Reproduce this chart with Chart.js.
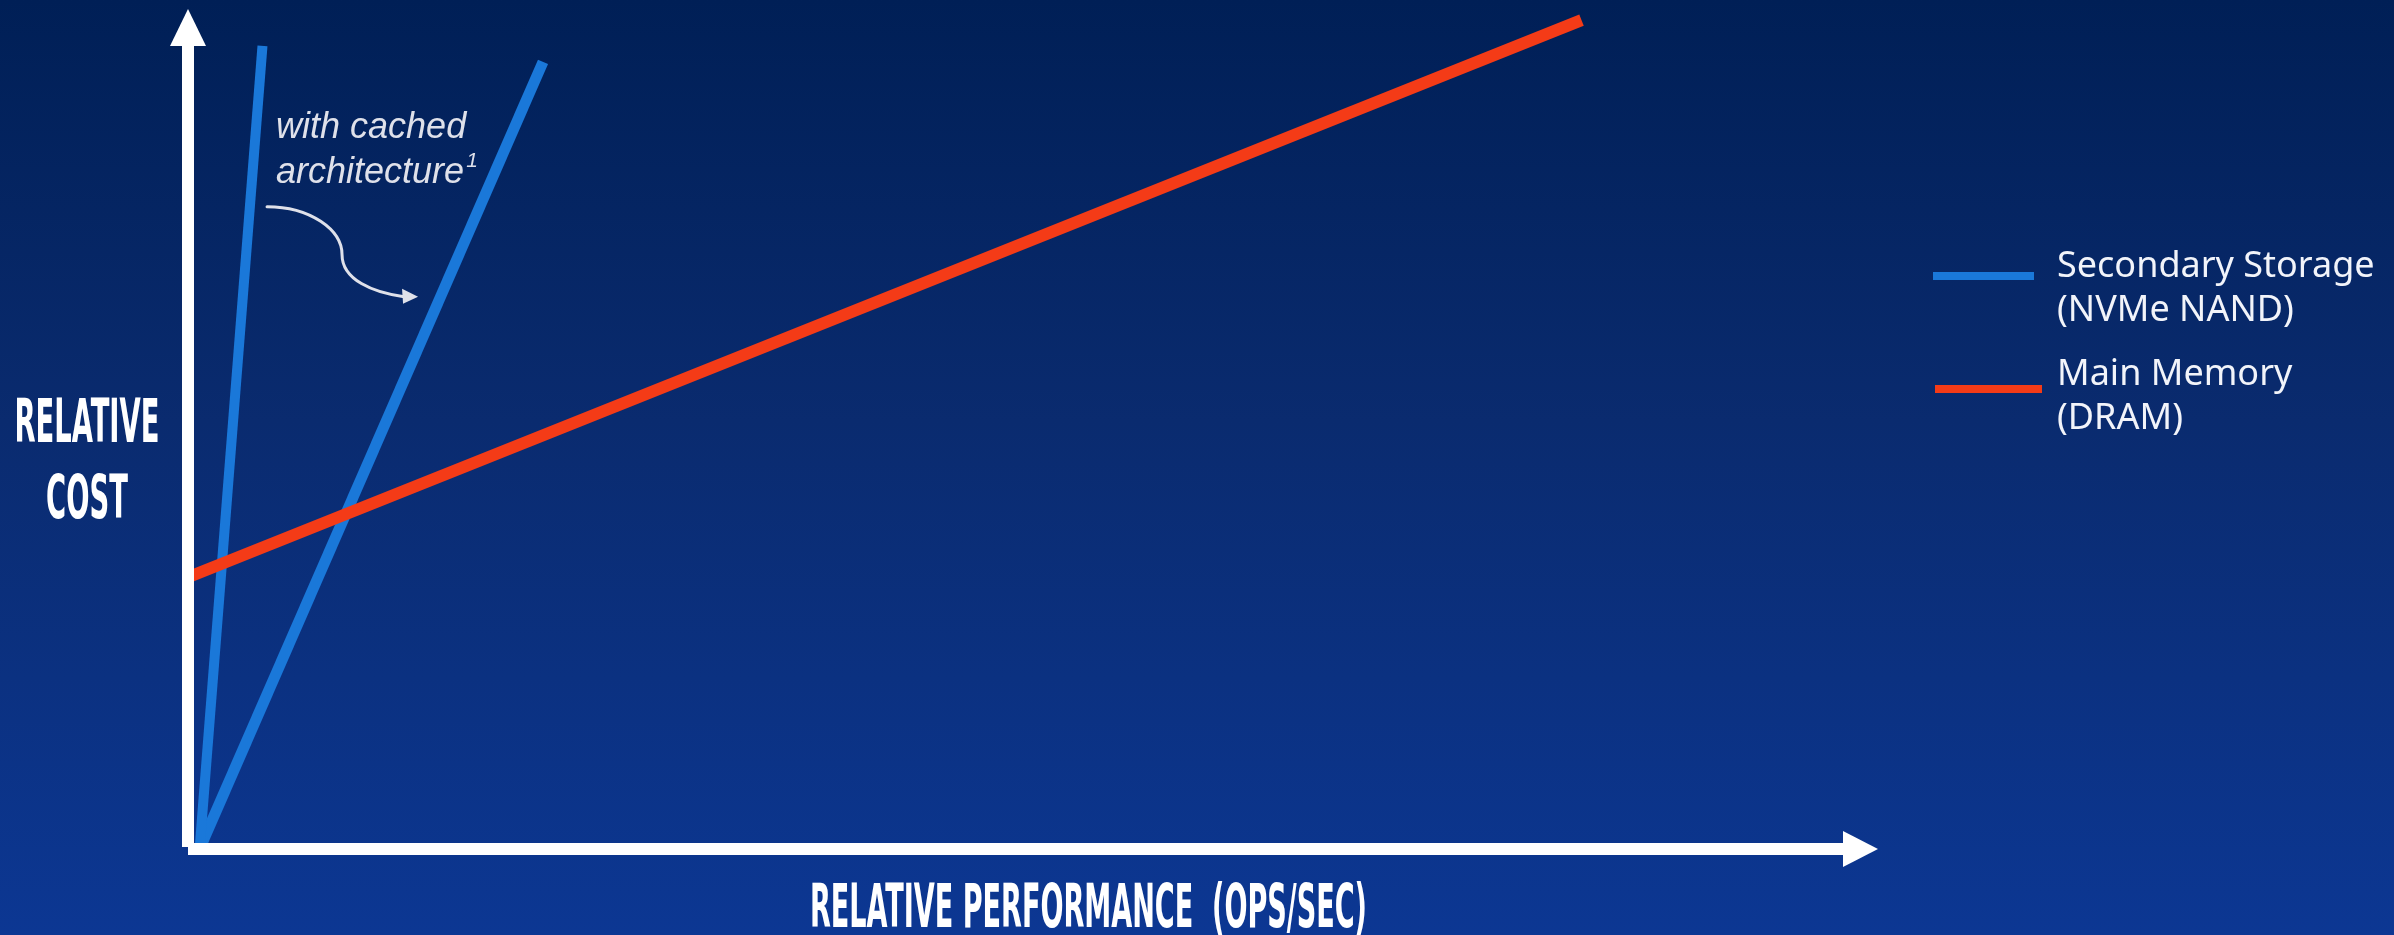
<!DOCTYPE html>
<html>
<head>
<meta charset="utf-8">
<title>Relative cost vs. relative performance</title>
<script src="https://cdn.jsdelivr.net/npm/chart.js@4.4.1/dist/chart.umd.min.js"></script>
<style>
  html, body { margin: 0; padding: 0; }
  body {
    width: 2394px; height: 935px; overflow: hidden;
    background: linear-gradient(to bottom, #001f56 0%, #0a2b6f 45%, #0c3793 100%);
  }
  #wrap { position: relative; width: 2394px; height: 935px; }
</style>
</head>
<body>
<div id="wrap"><canvas id="chart" width="2394" height="935"></canvas></div>
<script>
// Relative performance (x) and relative cost (y) end points of each line
const storagePerf = [0.7, 4.5];
const storageCost = [0, 99.9];
const cachedPerf  = [0.7, 21.45];
const cachedCost  = [0, 97.9];
const dramPerf    = [0, 84.2];
const dramCost    = [33.8, 103.1];

const seriesNames = ['Secondary Storage (NVMe NAND)', 'Secondary Storage, cached', 'Main Memory (DRAM)'];
const legendLabels = [['Secondary Storage', '(NVMe NAND)'], ['Main Memory', '(DRAM)']];
const xTitle = 'RELATIVE PERFORMANCE  (OPS/SEC)';
const yTitle = ['RELATIVE', 'COST'];
const noteLines = ['with cached', 'architecture'];
const noteMark = '1';
// where the callout arrow points, in chart units
const noteTarget = { x: 13.9, y: 68.7 };

const BLUE = '#1a78d9';
const RED = '#f43b17';
const WHITE = '#ffffff';
const CONDENSED = '"Liberation Sans Narrow", "DejaVu Sans Condensed", "Roboto Condensed", "Liberation Sans", sans-serif';

const toPoints = (xs, ys) => xs.map((x, i) => ({ x, y: ys[i] }));

// draw text squeezed horizontally to a given width
function squeezed(ctx, text, x, baseline, width, align) {
  const w = ctx.measureText(text).width;
  const sx = width / w;
  ctx.save();
  ctx.translate(x, baseline);
  ctx.scale(sx, 1);
  ctx.textAlign = align || 'left';
  ctx.fillText(text, 0, 0);
  ctx.restore();
}

const axesPlugin = {
  id: 'arrowAxes',
  afterDatasetsDraw(chart) {
    const { ctx, scales } = chart;
    const xs = scales.x, ys = scales.y;
    const x0 = xs.getPixelForValue(0);
    const y0 = ys.getPixelForValue(0);
    const xEnd = xs.getPixelForValue(100);
    const yTop = ys.getPixelForValue(100);
    ctx.save();
    ctx.fillStyle = WHITE;
    // vertical axis shaft + head
    ctx.fillRect(x0 - 6, yTop, 12, y0 - 2 - yTop);
    ctx.beginPath();
    ctx.moveTo(x0 - 18, yTop + 1);
    ctx.lineTo(x0 + 18, yTop + 1);
    ctx.lineTo(x0, yTop - 36);
    ctx.closePath();
    ctx.fill();
    // horizontal axis shaft + head
    ctx.fillRect(x0, y0 - 6, xEnd - x0 + 1, 12);
    ctx.beginPath();
    ctx.moveTo(xEnd, y0 - 18);
    ctx.lineTo(xEnd, y0 + 18);
    ctx.lineTo(xEnd + 35, y0);
    ctx.closePath();
    ctx.fill();
    ctx.restore();
  },
  afterDraw(chart) {
    const { ctx, scales } = chart;
    ctx.save();
    ctx.fillStyle = WHITE;
    ctx.textBaseline = 'alphabetic';

    // axis titles
    ctx.font = 'bold 60px ' + CONDENSED;
    squeezed(ctx, xTitle, 810, 927, 557, 'left');
    ctx.font = 'bold 61px ' + CONDENSED;
    const w0 = ctx.measureText(yTitle[0]).width;
    const sx = 145 / w0;
    yTitle.forEach((t, i) => {
      squeezed(ctx, t, 87, 442 + i * 76, ctx.measureText(t).width * sx, 'center');
    });

    // callout note
    const tx = scales.x.getPixelForValue(noteTarget.x);
    const ty = scales.y.getPixelForValue(noteTarget.y);
    ctx.fillStyle = '#dfe1ea';
    ctx.strokeStyle = '#dfe1ea';
    ctx.font = 'italic 36px "Liberation Sans", Arial, sans-serif';
    ctx.textAlign = 'left';
    const nx = tx - 142, ny = ty - 159;
    ctx.fillText(noteLines[0], nx, ny);
    ctx.fillText(noteLines[1], nx, ny + 45);
    const aw = ctx.measureText(noteLines[1]).width;
    ctx.font = 'italic 21px "Liberation Sans", Arial, sans-serif';
    ctx.fillText(noteMark, nx + aw + 2, ny + 29);

    ctx.lineWidth = 3;
    ctx.lineCap = 'round';
    ctx.beginPath();
    ctx.moveTo(tx - 151, ty - 90);
    ctx.bezierCurveTo(tx - 108, ty - 90, tx - 76, ty - 67, tx - 76, ty - 42);
    ctx.bezierCurveTo(tx - 76, ty - 17, tx - 45, ty - 4, tx - 14, ty);
    ctx.stroke();
    ctx.beginPath();
    ctx.moveTo(tx, ty);
    ctx.lineTo(tx - 16, ty - 8);
    ctx.lineTo(tx - 15, ty + 7);
    ctx.closePath();
    ctx.fill();

    // legend
    const colors = [BLUE, RED];
    const rows = [{ line: 276, base: 277, x0: 1933, x1: 2034 }, { line: 389, base: 385, x0: 1935, x1: 2042 }];
    ctx.font = '36px "Noto Sans", "Open Sans", sans-serif';
    legendLabels.forEach((lines, i) => {
      const r = rows[i];
      ctx.fillStyle = colors[i];
      ctx.fillRect(r.x0, r.line - 4, r.x1 - r.x0, 8);
      ctx.fillStyle = '#f2f4fa';
      ctx.fillText(lines[0], 2057, r.base);
      ctx.fillText(lines[1], 2057, r.base + 44);
    });
    ctx.restore();
  }
};

const lineStyle = (color, width) => ({
  borderColor: color,
  backgroundColor: color,
  borderWidth: width,
  borderCapStyle: 'butt',
  showLine: true,
  pointRadius: 0,
  pointHoverRadius: 0,
  tension: 0,
  fill: false,
  clip: false
});

new Chart(document.getElementById('chart'), {
  type: 'scatter',
  data: {
    datasets: [
      { label: seriesNames[2], data: toPoints(dramPerf, dramCost), ...lineStyle(RED, 12) },
      { label: seriesNames[0], data: toPoints(storagePerf, storageCost), ...lineStyle(BLUE, 10) },
      { label: seriesNames[1], data: toPoints(cachedPerf, cachedCost), ...lineStyle(BLUE, 11) }
    ]
  },
  options: {
    responsive: false,
    animation: false,
    events: [],
    layout: { padding: { left: 188, right: 551, top: 45, bottom: 86 } },
    scales: {
      x: { type: 'linear', min: 0, max: 100, display: false },
      y: { type: 'linear', min: 0, max: 100, display: false }
    },
    plugins: {
      legend: { display: false },
      tooltip: { enabled: false },
      title: { display: false }
    }
  },
  plugins: [axesPlugin]
});
</script>
</body>
</html>
